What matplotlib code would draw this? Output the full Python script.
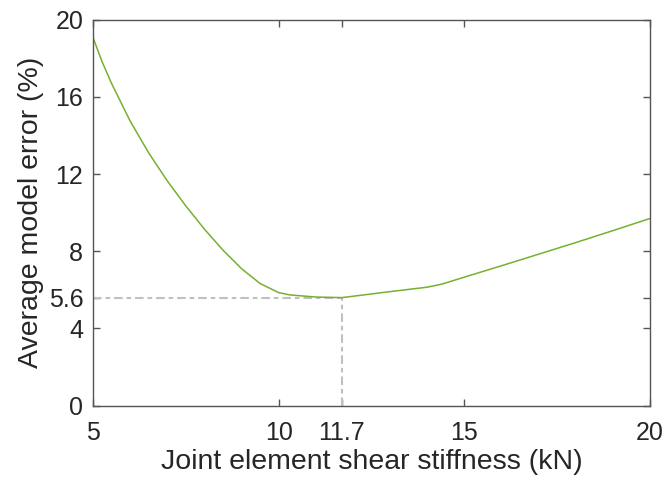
import matplotlib
matplotlib.use("Agg")
import matplotlib.pyplot as plt

# shear stiffness (kN) vs average model error (%)
stiffness = [5, 5.25, 5.5, 6, 6.5, 7, 7.5, 8, 8.5, 9, 9.5, 10, 10.3, 11, 11.7,
             12, 13, 14, 14.4, 15, 16, 17, 18, 19, 20]
error = [19.08, 17.8, 16.7, 14.75, 13.1, 11.65, 10.35, 9.15, 8.06, 7.1, 6.33,
         5.86, 5.74, 5.63, 5.6, 5.67, 5.91, 6.14, 6.3, 6.66, 7.25, 7.85, 8.45,
         9.07, 9.7]

best_k = 11.7
best_err = 5.6
xticks = [5, 10, 11.7, 15, 20]
yticks = [0, 4, 5.6, 8, 12, 16, 20]

plt.rcParams['font.family'] = ['Liberation Sans', 'DejaVu Sans']
fig = plt.figure(figsize=(6.67, 4.80), dpi=100)
ax = fig.add_axes([0.1394, 0.1548, 0.8351, 0.8042])

dd = (4.1, 1.9, 2.2, 1.9)
ax.plot([5, best_k], [best_err, best_err], color='#c0c0c0', lw=1.5, ls='-.', dashes=dd)
ax.plot([best_k, best_k], [0, best_err], color='#c0c0c0', lw=1.5, ls='-.', dashes=dd)
ax.plot(stiffness, error, color='#77b02e', lw=1.1)

ax.set_xlim(5, 20)
ax.set_ylim(0, 20)
ax.set_xticks(xticks)
ax.set_xticklabels(['5', '10', '11.7', '15', '20'])
ax.set_yticks(yticks)
ax.set_yticklabels(['0', '4', '5.6', '8', '12', '16', '20'])

dark = '#262626'
for s in ax.spines.values():
    s.set_color('#555555')
    s.set_linewidth(1.0)
ax.tick_params(direction='in', length=5, width=1.0, color='#555555',
               labelcolor=dark, labelsize=18, top=True, right=True)
ax.tick_params(axis='x', pad=11)
ax.tick_params(axis='y', pad=7)
ax.set_xlabel('Joint element shear stiffness (kN)', fontsize=20.5, color=dark, labelpad=3)
ax.set_ylabel('Average model error (%)', fontsize=20.5, color=dark, labelpad=3)

fig.savefig('out.png', dpi=100)
